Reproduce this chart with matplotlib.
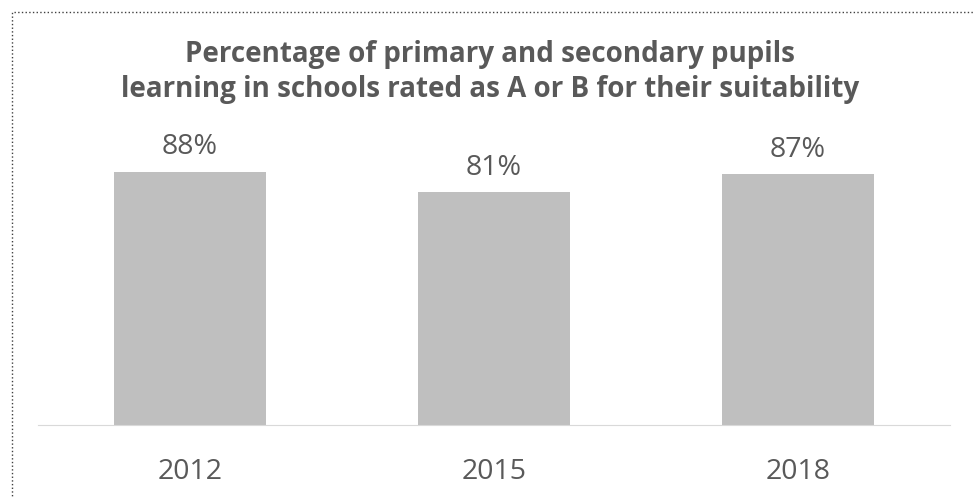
import matplotlib.pyplot as plt
from matplotlib.patches import Rectangle

years = ['2012', '2015', '2018']
values = [88, 81, 87]
labels = ['88%', '81%', '87%']

plt.rcParams['font.family'] = ['Open Sans', 'DejaVu Sans']
text_color = '#595959'

fig = plt.figure(figsize=(9.75, 4.98), dpi=100)
ax = fig.add_axes([38/975, 1 - 425/498, 912/975, 288/498])

x = range(len(years))
bars = ax.bar(x, values, width=0.5, color='#bfbfbf')
for b, lab in zip(bars, labels):
    ax.text(b.get_x() + b.get_width()/2, b.get_height() + 3.5, lab,
            ha='center', va='bottom', fontsize=20.5, color=text_color)

ax.set_xlim(-0.5, 2.5)
ax.set_ylim(0, 100)
ax.set_xticks(list(x))
ax.set_xticklabels(years, fontsize=20.5, color=text_color)
ax.tick_params(axis='x', length=0, pad=24)
ax.set_yticks([])
for s in ['top', 'left', 'right']:
    ax.spines[s].set_visible(False)
ax.spines['bottom'].set_color('#d9d9d9')

fig.text(0.503, 1 - 72/498,
         'Percentage of primary and secondary pupils\nlearning in schools rated as A or B for their suitability',
         ha='center', va='center', fontsize=20, fontweight='bold', color=text_color,
         linespacing=1.3)

# dotted frame round the chart area
fig.patches.append(Rectangle((12/975, -0.1), 1.0, 1 - 12/498 + 0.1,
                             transform=fig.transFigure, fill=False,
                             linestyle=':', linewidth=1, edgecolor='#404040'))

fig.savefig('out.png', dpi=100)
